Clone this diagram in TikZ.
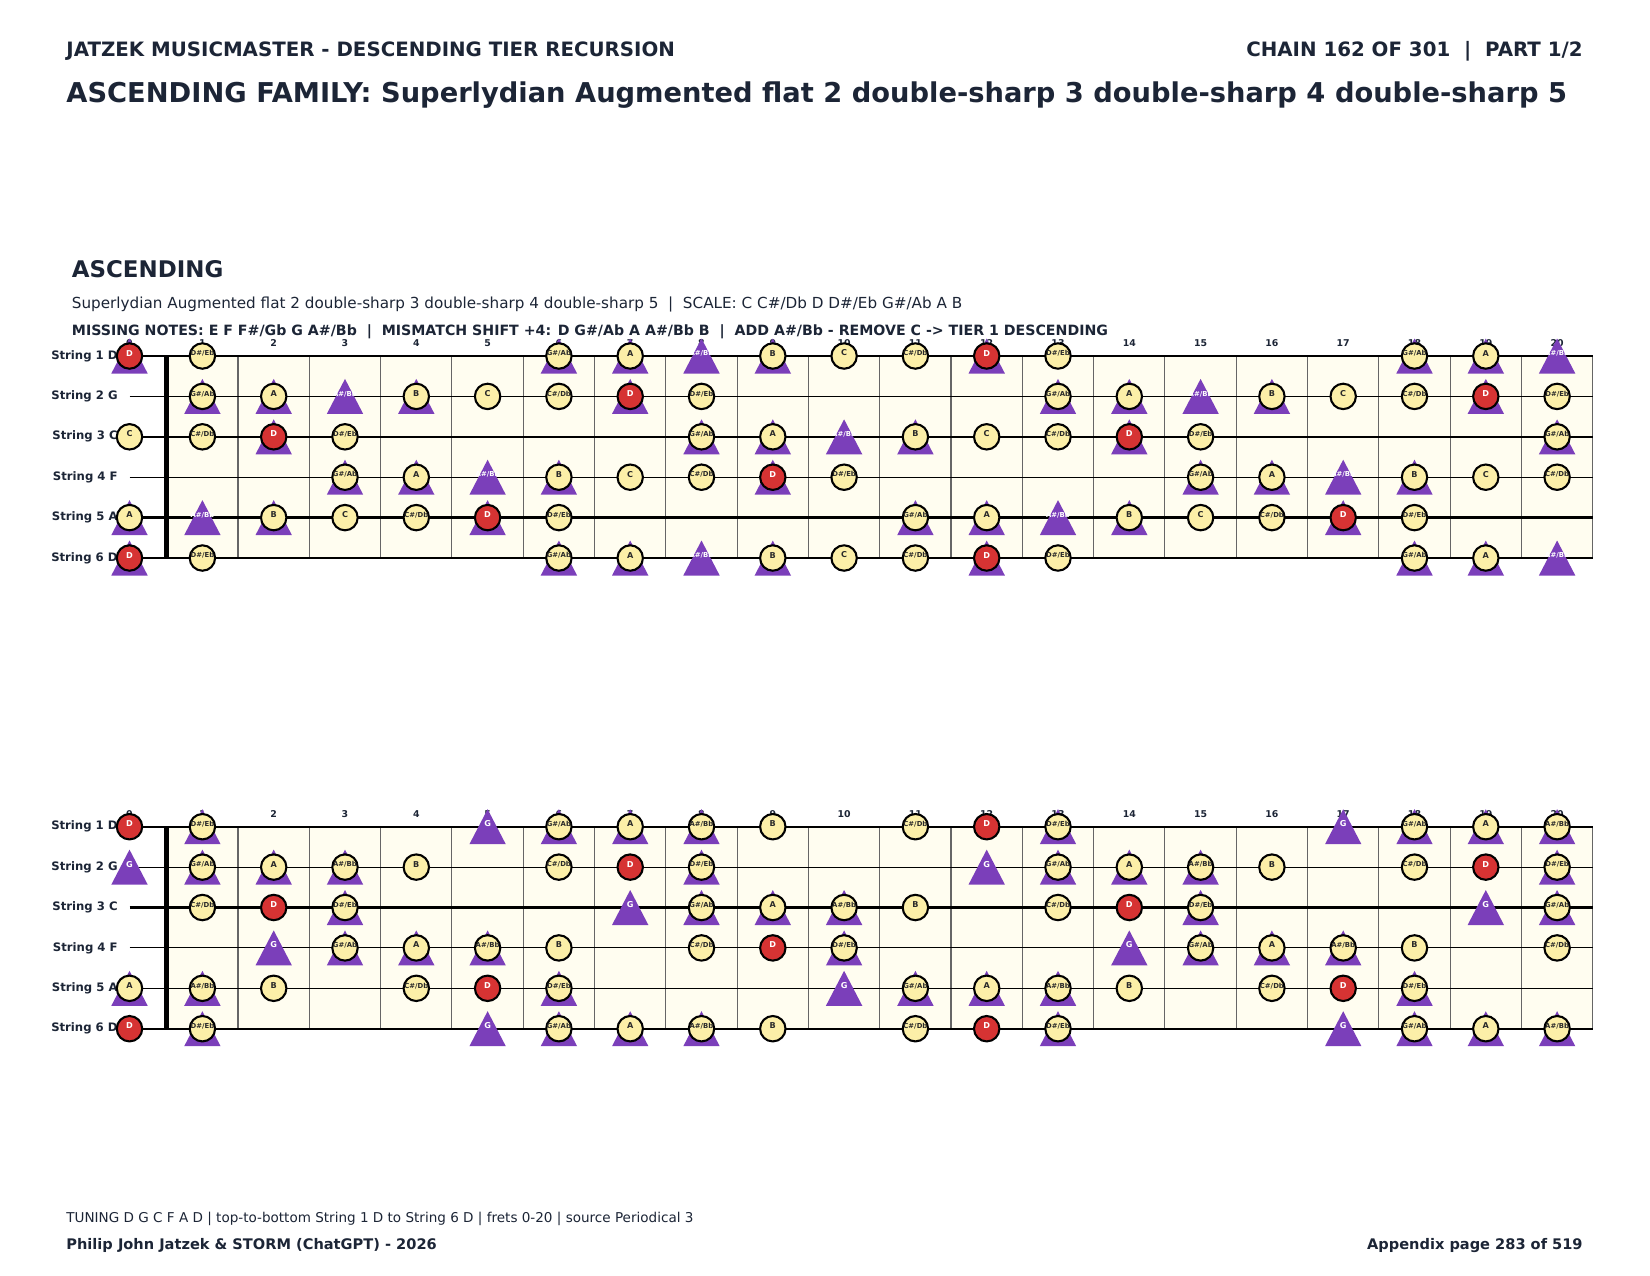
\documentclass[tikz,border=0pt]{standalone}
\usepackage{fontspec}
\setmainfont{DejaVu Sans}
\definecolor{ink}{HTML}{1C2536}
\definecolor{noteyel}{HTML}{FCEFA8}
\definecolor{notered}{HTML}{D63333}
\definecolor{tripur}{HTML}{7B3FBA}
\definecolor{boardbg}{HTML}{FFFDF0}
\definecolor{fretgray}{HTML}{666666}
\definecolor{notetxt}{HTML}{2A2A2A}
\newcommand\fsz[1]{\fontsize{#1bp}{#1bp}\selectfont}
\newcommand\notename[1]{\ifcase#1 C\or C\#/Db\or D\or D\#/Eb\or E\or F\or F\#/Gb\or G\or G\#/Ab\or A\or A\#/Bb\or B\fi}
\newcommand\bignf{\fsz{3.9}\bfseries}
\newcommand\smallnf{\fsz{3.3}\bfseries}
\newcommand\notefont[1]{\ifcase#1 \bignf\or\smallnf\or\bignf\or\smallnf\or\bignf\or\bignf\or\smallnf\or\bignf\or\smallnf\or\bignf\or\smallnf\or\bignf\fi}
% #1 tag, #2 y of string 1, #3 circle flags, #4 triangle flags, #5 string widths (bp)
\newcommand\drawboard[5]{%
  \fill[boardbg] (166.7,#2) rectangle (1592.7,{#2+202});
  \foreach \k in {1,...,20}
    \draw[fretline] ({166.7+71.3*\k},#2) -- ({166.7+71.3*\k},{#2+202});
  \foreach \s/\nm in {1/D,2/G,3/C,4/F,5/A,6/D}{
    \pgfmathsetmacro\yy{#2+40.4*(\s-1)}
    \pgfmathsetmacro\lw{{#5}[\s-1]}
    \node[strlab] (sl-#1-\s) at (118,\yy) {String \s\ \nm};
    \draw[line width=\lw bp, black] (129.5,\yy) -- (1592.7,\yy);
  }
  \draw[line width=2.2bp, black] (166.7,{#2-0.5}) -- (166.7,{#2+202.5});
  \foreach \f in {0,...,20}{
    \pgfmathsetmacro\xx{\f==0 ? 129.5 : 202.4+71.3*(\f-1)}
    \node[fretnum] (fn-#1-\f) at (\xx,{#2-13}) {\f};
  }
  \foreach \s/\o in {1/2,2/7,3/0,4/5,5/9,6/2}{
    \foreach \f in {0,...,20}{
      \pgfmathtruncatemacro\n{mod(\o+\f,12)}
      \pgfmathtruncatemacro\hc{{#3}[\n]}
      \pgfmathtruncatemacro\ht{{#4}[\n]}
      \pgfmathsetmacro\xx{\f==0 ? 129.5 : 202.4+71.3*(\f-1)}
      \pgfmathsetmacro\yy{#2+40.4*(\s-1)}
      \ifnum\ht=1
        \fill[tripur] ({\xx},{\yy-17.5}) -- ({\xx-18.2},{\yy+17.5}) -- ({\xx+18.2},{\yy+17.5}) -- cycle;
        \ifnum\hc=0
          \node[trilab] (tl-#1-\s-\f) at (\xx,\yy) {\notefont{\n}\notename{\n}};
        \fi
      \fi
      \ifnum\hc=1
        \ifnum\n=2
          \node[notecirc, fill=notered, text=white] (nc-#1-\s-\f) at (\xx,\yy) {\notefont{\n}\notename{\n}};
        \else
          \node[notecirc, fill=noteyel, text=notetxt] (nc-#1-\s-\f) at (\xx,\yy) {\notefont{\n}\notename{\n}};
        \fi
      \fi
    }
  }
}
\begin{document}
\begin{tikzpicture}[x=0.48bp,y=-0.48bp,
  hdr/.style={font=\fsz{9.5}\bfseries, text=ink, inner sep=0},
  ttl/.style={font=\fsz{13.1}\bfseries, text=ink, inner sep=0},
  sect/.style={font=\fsz{11}\bfseries, text=ink, inner sep=0},
  sub/.style={font=\fsz{7.3}, text=ink, inner sep=0},
  miss/.style={font=\fsz{6.8}\bfseries, text=ink, inner sep=0},
  foot/.style={font=\fsz{6.5}, text=ink, inner sep=0},
  footb/.style={font=\fsz{7}\bfseries, text=ink, inner sep=0},
  strlab/.style={font=\fsz{5.6}\bfseries, text=ink, inner sep=0, anchor=east},
  fretnum/.style={font=\fsz{4.5}\bfseries, text=ink, inner sep=0},
  fretline/.style={draw=fretgray, line width=0.5bp},
  notecirc/.style={circle, draw=black, line width=1bp, minimum size=12.2bp, inner sep=0},
  trilab/.style={text=white, inner sep=0}]
\useasboundingbox[fill=white] (0,0) rectangle (1650,1275);
\node[hdr, anchor=base west] (hdrL) at (66,56.7) {JATZEK MUSICMASTER - DESCENDING TIER RECURSION};
\node[hdr, anchor=base east] (hdrR) at (1583,56.7) {CHAIN 162 OF 301\ \ |\ \ PART 1/2};
\node[ttl, anchor=base west] (title) at (66,102.5) {ASCENDING FAMILY: Superlydian Augmented flat 2 double-sharp 3 double-sharp 4 double-sharp 5};
\node[sect, anchor=base west] (sec) at (71.5,277.7) {ASCENDING};
\node[sub, anchor=base west] (subt) at (71.5,308.7) {Superlydian Augmented flat 2 double-sharp 3 double-sharp 4 double-sharp 5\ \ |\ \ SCALE: C C\#/Db D D\#/Eb G\#/Ab A B};
\node[miss, anchor=base west] (miss) at (71.5,335) {MISSING NOTES: E F F\#/Gb G A\#/Bb\ \ |\ \ MISMATCH SHIFT +4: D G\#/Ab A A\#/Bb B\ \ |\ \ ADD A\#/Bb - REMOVE C -> TIER 1 DESCENDING};
\drawboard{a}{356}{1,1,1,1,0,0,0,0,1,1,0,1}{0,0,1,0,0,0,0,0,1,1,1,1}{0.55,0.55,1.1,0.55,1.1,0.55}
\drawboard{b}{826.7}{0,1,1,1,0,0,0,0,1,1,1,1}{0,0,0,1,0,0,0,1,1,1,1,0}{1.1,0.55,1.1,0.55,0.55,1.1}
\node[foot, anchor=base west] (ft1) at (66,1222.5) {TUNING D G C F A D | top-to-bottom String 1 D to String 6 D | frets 0-20 | source Periodical 3};
\node[footb, anchor=base west] (ft2) at (66,1249) {Philip John Jatzek \& STORM (ChatGPT) - 2026};
\node[footb, anchor=base east] (ft3) at (1583,1249) {Appendix page 283 of 519};
\end{tikzpicture}
\end{document}
